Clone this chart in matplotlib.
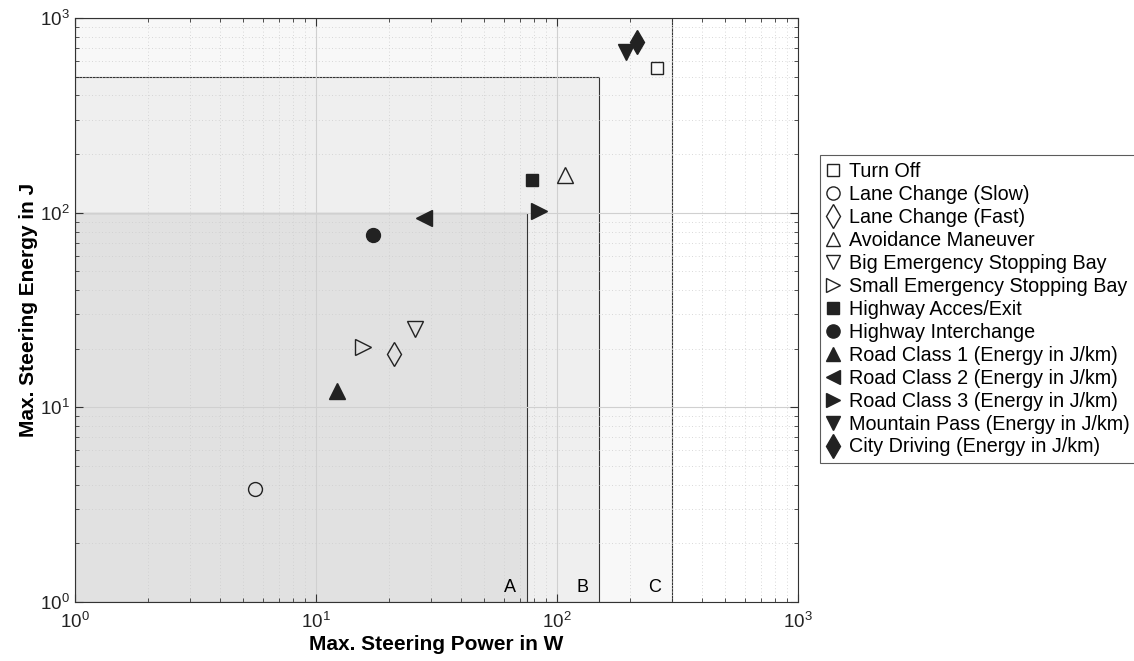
import numpy as np
import matplotlib.pyplot as plt
from matplotlib.patches import Rectangle

plt.rcParams['font.family'] = ['Liberation Sans', 'DejaVu Sans']

names = ['Turn Off', 'Lane Change (Slow)', 'Lane Change (Fast)', 'Avoidance Maneuver',
         'Big Emergency Stopping Bay', 'Small Emergency Stopping Bay', 'Highway Acces/Exit',
         'Highway Interchange', 'Road Class 1 (Energy in J/km)', 'Road Class 2 (Energy in J/km)',
         'Road Class 3 (Energy in J/km)', 'Mountain Pass (Energy in J/km)',
         'City Driving (Energy in J/km)']
power = [260, 5.6, 21, 108, 25.7, 15.7, 79, 17.2, 12.2, 28, 84, 193, 215]
energy = [553, 3.8, 18.8, 156, 25.2, 20.4, 147, 77, 12.1, 94, 102, 668, 752]
markers = ['s', 'o', 'd', '^', 'v', '>', 's', 'o', '^', '<', '>', 'v', 'd']
filled = [False] * 6 + [True] * 7

# limit boxes: (name, max power, max energy, colour)
zones = ['A', 'B', 'C']
zone_power = [75, 150, 300]
zone_energy = [100, 500, 1000]
zone_color = ['#e1e1e1', '#efefef', '#f8f8f8']

fig = plt.figure(figsize=(11.34, 6.61), dpi=100)
ax = fig.add_axes([0.0661, 0.0893, 0.6376, 0.8835])
ax.set_xscale('log')
ax.set_yscale('log')
ax.set_xlim(1, 1000)
ax.set_ylim(1, 1000)

for z, p, e, c, zo in zip(zones[::-1], zone_power[::-1], zone_energy[::-1], zone_color[::-1], [0.1, 0.2, 0.3]):
    ax.add_patch(Rectangle((1, 1), p - 1, e - 1, facecolor=c, edgecolor='#333333', lw=0.8, zorder=zo))
    ax.text(p * 0.9, 1.07, z, ha='right', va='bottom', fontsize=13)

ax.set_axisbelow(True)
ax.grid(True, which='major', color='#d0d0d0', lw=0.8)
ax.grid(True, which='minor', color='#cccccc', lw=0.6, ls=(0, (1, 3)))

sizes = {'s': 8.5, 'o': 10, 'd': 12.5, '^': 11, 'v': 11, '<': 11, '>': 11}
for n, x, y, m, f in zip(names, power, energy, markers, filled):
    ax.plot(x, y, ls='none', marker=m, ms=sizes[m], mec='#222222', mew=1.0,
            mfc='#222222' if f else 'none', label=n, zorder=5)

ax.tick_params(which='both', direction='in', top=True, right=True, labelsize=13.5,
               color='#333333', labelcolor='#222222', pad=4)
ax.tick_params(axis='x', which='both', pad=7)
ax.tick_params(which='major', length=6)
ax.tick_params(which='minor', length=3)
for s in ax.spines.values():
    s.set_color('#333333')
ax.set_xlabel('Max. Steering Power in W', fontsize=15, fontweight='bold', labelpad=2)
ax.set_ylabel('Max. Steering Energy in J', fontsize=15, fontweight='bold', labelpad=1)

leg = ax.legend(loc='upper left', bbox_to_anchor=(1.03, 0.765), fontsize=14.2, frameon=True,
                fancybox=False, edgecolor='#333333', handlelength=0.7, handletextpad=0.45,
                labelspacing=0.2, borderpad=0.35, borderaxespad=0, markerscale=0.95)
leg.get_frame().set_linewidth(0.8)

fig.savefig('out.png', dpi=100)
